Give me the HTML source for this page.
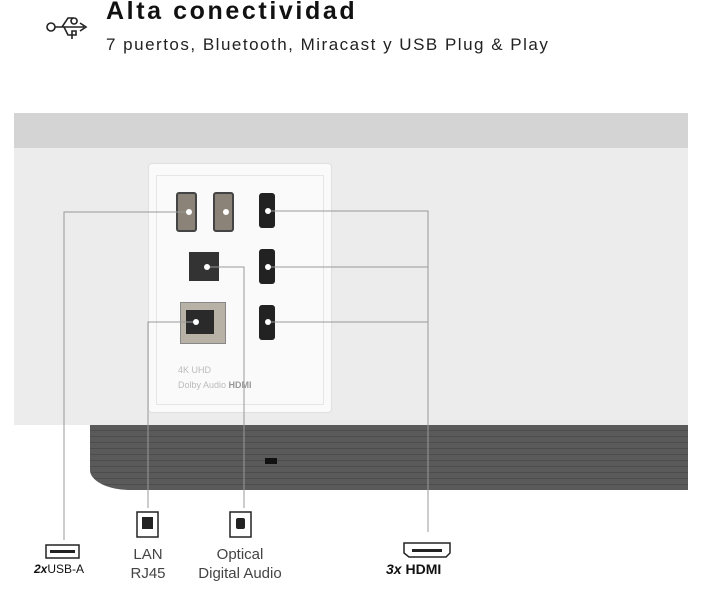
<!DOCTYPE html>
<html><head><meta charset="utf-8"><style>
body{margin:0;width:702px;height:602px;background:#fff;position:relative;overflow:hidden;font-family:"Liberation Sans",sans-serif}
.a{position:absolute}
</style></head><body>
<svg class="a" style="left:44px;top:10px" width="46" height="36" viewBox="0 0 46 36" fill="none" stroke="#222" stroke-width="1.6">
<circle cx="7" cy="17" r="4"/><path d="M11 17 H40 M36 13 L42 17 L36 21 M18 17 L24 8 H30 M30 8 a3 3 0 1 0 0.1 0 M20 17 L24 25 H32 V21 H28 V29 M18 17"/>
</svg>
<div class="a" style="left:106px;top:-3px;font-size:25px;font-weight:bold;color:#111;letter-spacing:2.6px;white-space:nowrap">Alta conectividad</div>
<div class="a" style="left:106px;top:35px;font-size:17px;color:#222;letter-spacing:1.5px;white-space:nowrap">7 puertos, Bluetooth, Miracast y USB Plug &amp; Play</div>

<div class="a" style="left:14px;top:113px;width:674px;height:35px;background:#d4d4d4"></div>
<div class="a" style="left:14px;top:148px;width:674px;height:277px;background:#ececec"></div>
<div class="a" style="left:90px;top:425px;width:598px;height:65px;border-bottom-left-radius:40px 20px;background:repeating-linear-gradient(#5a5a5a 0 5px,#4d4d4d 5px 6px)"></div>
<div class="a" style="left:265px;top:458px;width:12px;height:6px;background:#111"></div>
<div class="a" style="left:148px;top:163px;width:182px;height:248px;background:#fafafa;border:1px solid #e0e0e0;border-radius:4px"></div>
<div class="a" style="left:156px;top:175px;width:166px;height:228px;border:1px solid #e6e6e6"></div>

<div class="a" style="left:176px;top:192px;width:17px;height:36px;background:#8b8378;border:2px solid #444;border-radius:3px"></div>
<div class="a" style="left:213px;top:192px;width:17px;height:36px;background:#8b8378;border:2px solid #444;border-radius:3px"></div>
<div class="a" style="left:259px;top:193px;width:16px;height:35px;background:#222;border-radius:3px"></div>
<div class="a" style="left:259px;top:249px;width:16px;height:35px;background:#222;border-radius:3px"></div>
<div class="a" style="left:259px;top:305px;width:16px;height:35px;background:#222;border-radius:3px"></div>
<div class="a" style="left:189px;top:252px;width:30px;height:29px;background:#333"></div>
<div class="a" style="left:180px;top:302px;width:44px;height:40px;background:#b8b2a6;border:1px solid #888"></div>
<div class="a" style="left:186px;top:310px;width:28px;height:24px;background:#2a2a2a"></div>
<div class="a" style="left:178px;top:365px;font-size:9px;color:#bbb">4K UHD</div>
<div class="a" style="left:178px;top:380px;font-size:9px;color:#bbb">Dolby Audio <b style="color:#999">HDMI</b></div>

<svg class="a" style="left:0;top:0" width="702" height="602" fill="none" stroke="#999" stroke-width="1">
<path d="M189 212 H64 V540 M196 322 H148 V508 M207 267 H244 V508 M268 211 H428 V532 M268 267 H428 M268 322 H428"/>
<g fill="#fff" stroke="none"><circle cx="189" cy="212" r="3"/><circle cx="226" cy="212" r="3"/><circle cx="268" cy="211" r="3"/><circle cx="268" cy="267" r="3"/><circle cx="268" cy="322" r="3"/><circle cx="207" cy="267" r="3"/><circle cx="196" cy="322" r="3"/></g>
<g stroke="#222" stroke-width="1.5">
<rect x="46" y="545" width="33" height="13"/><rect x="137" y="512" width="21" height="25"/><rect x="230" y="512" width="21" height="25"/>
<path d="M404 543 H450 V553 L446 557 H409 L404 553 Z"/></g>
<g fill="#222" stroke="none"><rect x="50" y="550" width="25" height="3"/><rect x="142" y="517" width="11" height="12"/><rect x="236" y="518" width="9" height="11" rx="2"/><rect x="412" y="549" width="30" height="3"/></g>
</svg>
<div class="a" style="left:34px;top:562px;font-size:12px;color:#111"><b><i>2x</i></b>USB-A</div>
<div class="a" style="left:128px;top:545px;font-size:15px;color:#444;line-height:19px;text-align:center;width:40px">LAN<br>RJ45</div>
<div class="a" style="left:190px;top:545px;font-size:15px;color:#444;line-height:19px;text-align:center;width:100px">Optical<br>Digital Audio</div>
<div class="a" style="left:386px;top:561px;font-size:14px;color:#111;font-weight:bold"><i>3x</i> HDMI</div>
</body></html>
